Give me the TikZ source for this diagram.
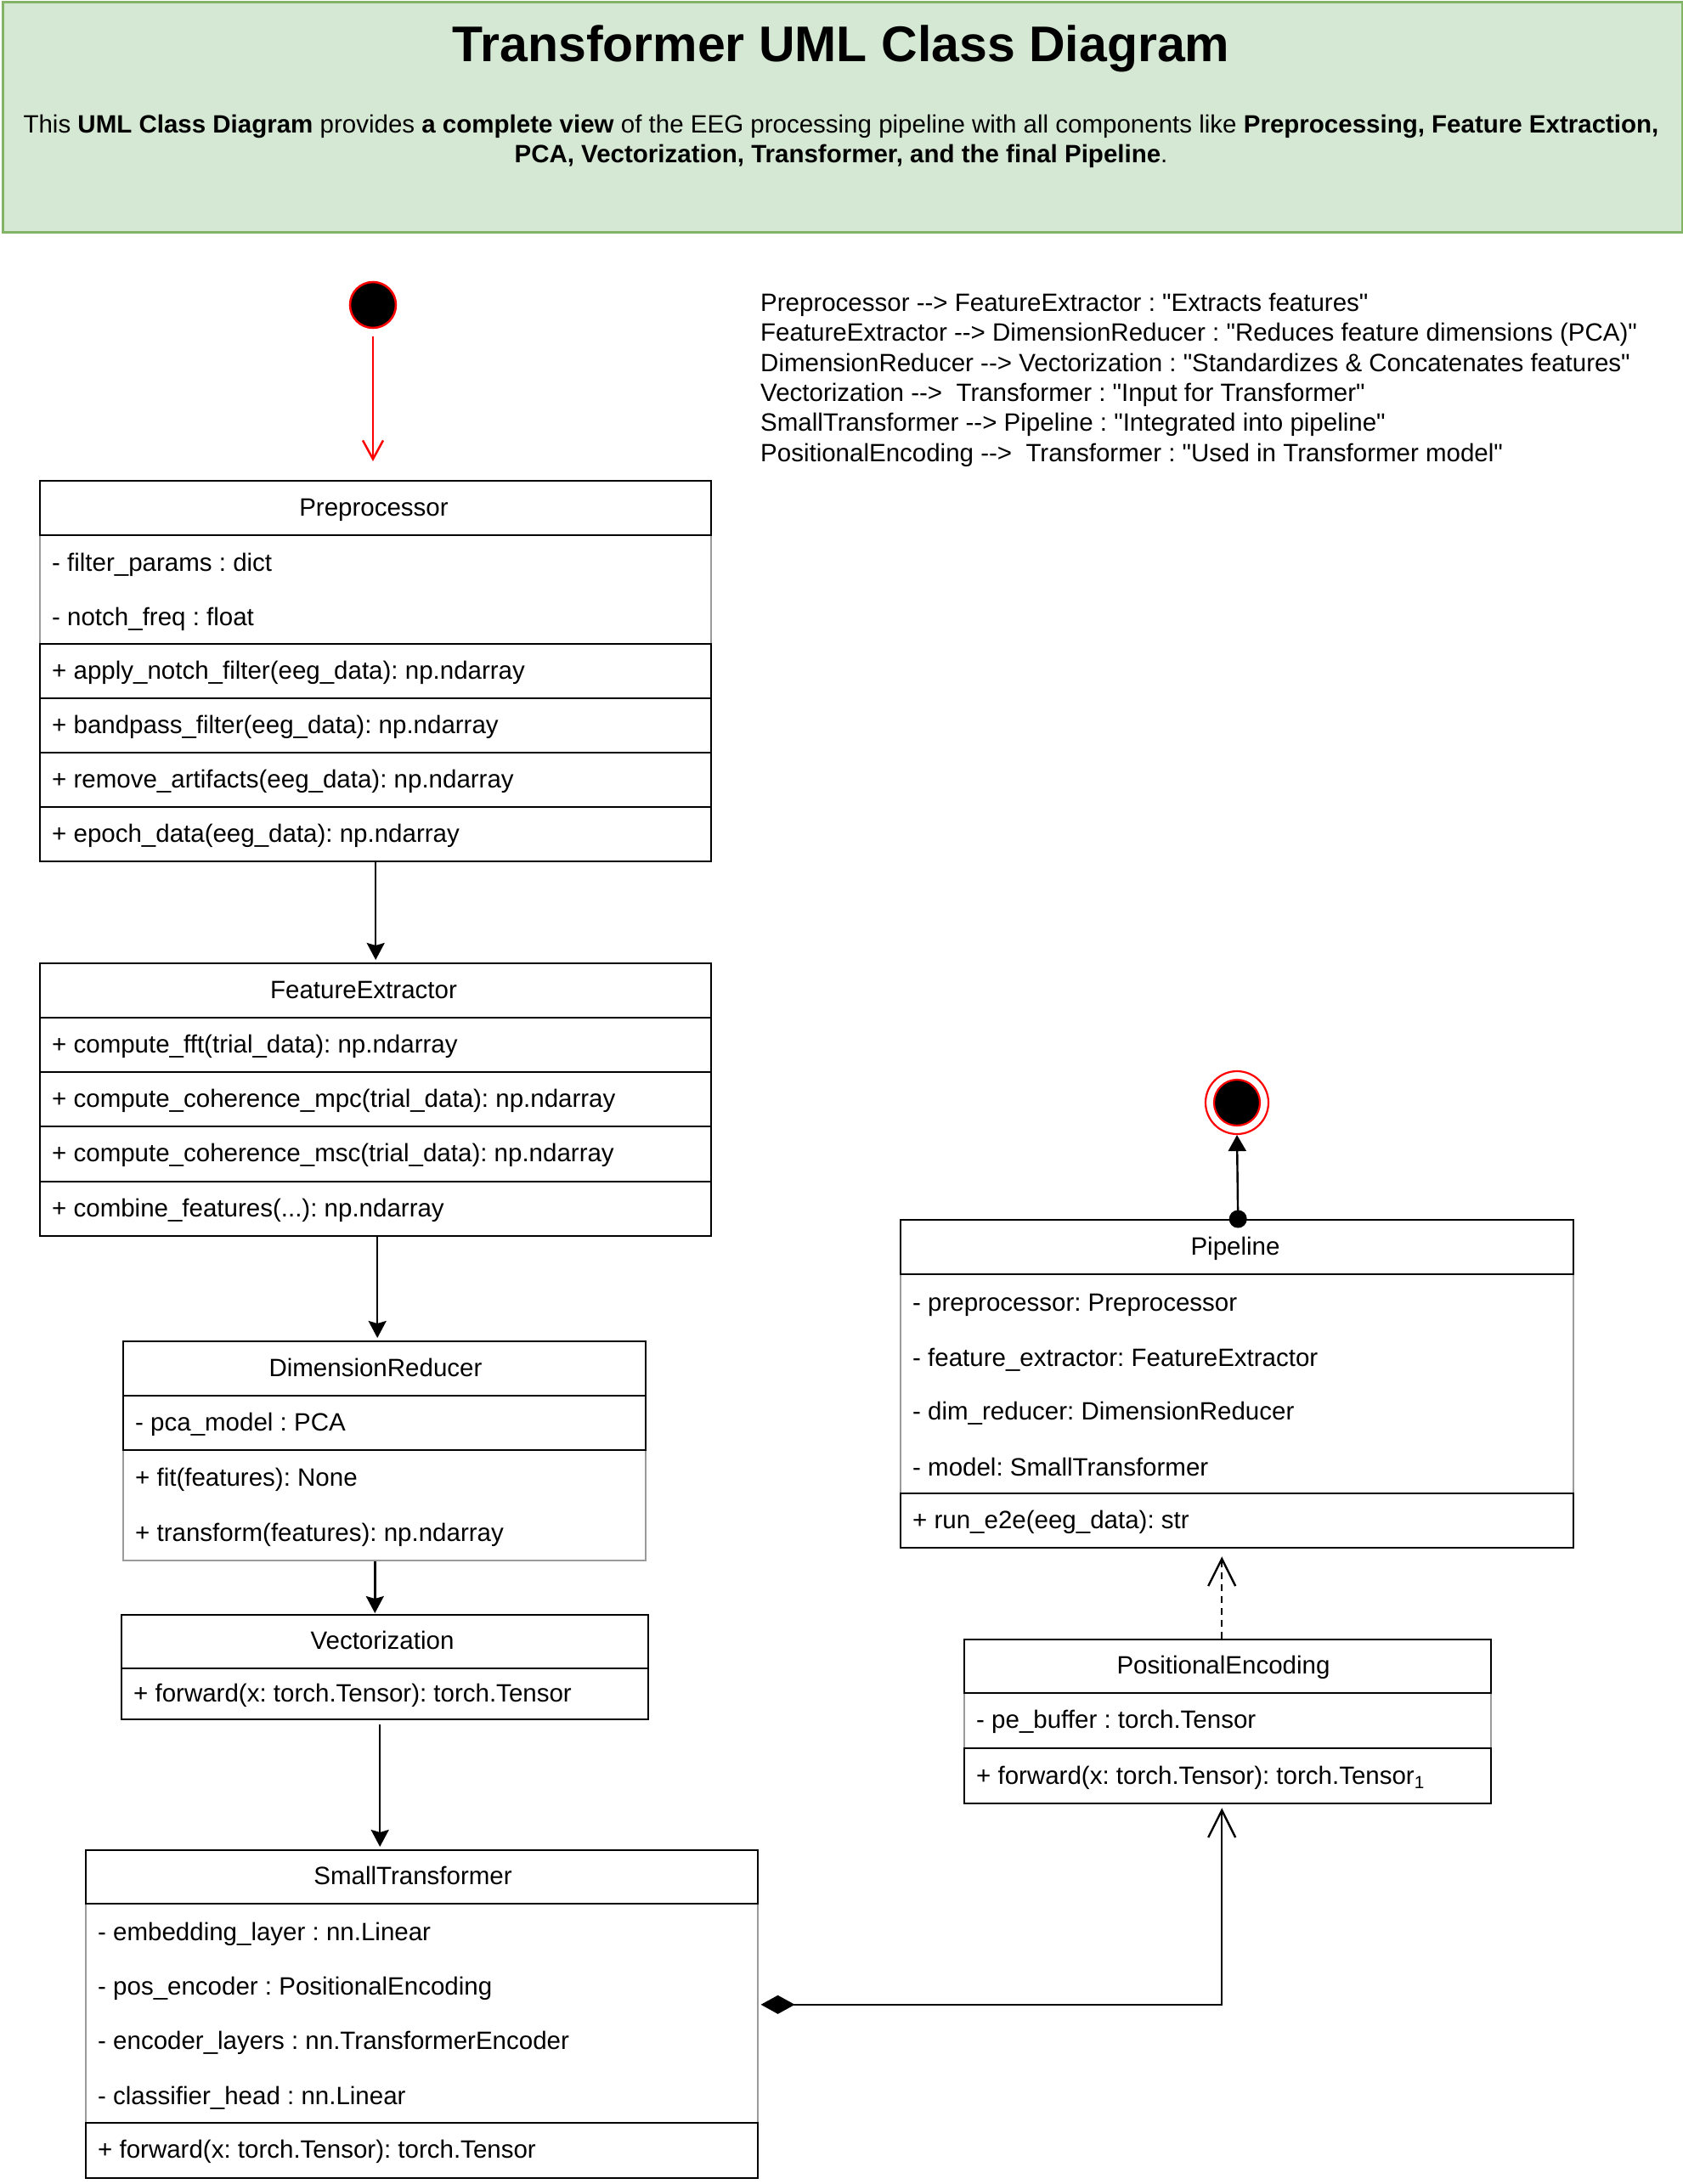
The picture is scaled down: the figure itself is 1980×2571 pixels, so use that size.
\documentclass[tikz,border=0pt]{standalone}
\usepackage{fontspec}
\setmainfont{Liberation Sans}[Ligatures=TeXOff]
\usetikzlibrary{arrows.meta}
\definecolor{bannerfill}{HTML}{D5E8D4}
\definecolor{bannerline}{HTML}{82B366}
\definecolor{umlred}{HTML}{FF0000}
\definecolor{softline}{HTML}{9A9A9A}
\frenchspacing
\newcommand{\bodyfs}{\fontsize{29.5}{35.4}\selectfont}
\newcommand{\titlefs}{\fontsize{59}{70}\selectfont}
% straight double quote
\newcommand{\dq}{\char34\relax}
% compartment box: style, name, left, top, width, height
\newcommand{\crow}[6]{\node[#1, minimum width=#5, minimum height=#6, anchor=north west] (#2) at (#3,#4) {};}
% left-aligned compartment text: name, x, baseline, text
\newcommand{\ctext}[4]{\node[txt, anchor=base west] (#1) at (#2,#3) {#4};}
% centred class name: name, x, baseline, text
\newcommand{\chead}[4]{\node[txt, anchor=base] (#1) at (#2,#3) {#4};}

\begin{document}
\begin{tikzpicture}[x=1pt,y=-1pt,
  txt/.style={inner sep=0pt, font=\bodyfs},
  solidrow/.style={draw=black, line width=2.4pt, inner sep=0pt},
  softrow/.style={draw=softline, line width=1.6pt, inner sep=0pt},
  flow/.style={draw=black, line width=2.4pt, -{Stealth[length=20pt,width=21pt,inset=3pt]}},
  startflow/.style={draw=umlred, line width=2.5pt, -{Straight Barb[length=22pt,width=24pt]}},
  endflow/.style={draw=black, line width=2.4pt, -{Triangle[length=19pt,width=21pt]}},
  composition/.style={draw=black, line width=2.4pt, {Diamond[length=40pt,width=22pt]}-{Straight Barb[length=32pt,width=32pt]}},
  dependency/.style={draw=black, line width=2.4pt, dash pattern=on 8pt off 6pt, -{Straight Barb[length=32pt,width=32pt]}}
]
\useasboundingbox (0,0) rectangle (1980,2571);
\fill[white] (0,0) rectangle (1980,2571);

% banner
\node[draw=bannerline, fill=bannerfill, line width=3pt, inner sep=0pt,
      minimum width=1977, minimum height=271, anchor=north west] (banner) at (1.5,1.5) {};
\node[anchor=base, inner sep=0pt, font=\titlefs\bfseries] (title) at (990,73) {Transformer UML Class Diagram};
\node[txt, anchor=base] (desc1) at (990,157) {This \textbf{UML Class Diagram} provides \textbf{a complete view} of the EEG processing pipeline with all components like \textbf{Preprocessing, Feature Extraction,}};
\node[txt, anchor=base] (desc2) at (990,192) {\textbf{PCA, Vectorization, Transformer, and the final Pipeline}.};

% relation notes
\ctext{rel1}{895}{366}{Preprocessor --> FeatureExtractor : \dq Extracts features\dq}
\ctext{rel2}{895}{401.5}{FeatureExtractor --> DimensionReducer : \dq Reduces feature dimensions (PCA)\dq}
\ctext{rel3}{895}{437}{DimensionReducer --> Vectorization : \dq Standardizes \& Concatenates features\dq}
\ctext{rel4}{895}{472}{Vectorization -->~ Transformer : \dq Input for Transformer\dq}
\ctext{rel5}{895}{507.5}{SmallTransformer --> Pipeline : \dq Integrated into pipeline\dq}
\ctext{rel6}{895}{543}{PositionalEncoding -->~ Transformer : \dq Used in Transformer model\dq}

% initial and final states
\node[circle, fill=black, draw=umlred, line width=2.5pt, minimum size=54, inner sep=0pt] (start) at (439,359) {};
\node[circle, draw=umlred, line width=2.2pt, minimum size=74, inner sep=0pt] (fin) at (1456,1298) {};
\node[circle, fill=black, draw=umlred, line width=2.2pt, minimum size=54, inner sep=0pt] (finIn) at (fin.center) {};

% Preprocessor
\crow{softrow}{preA}{46}{629}{790}{128}
\crow{solidrow}{preH}{46}{565}{790}{64}
\crow{solidrow}{preM1}{46}{757}{790}{64}
\crow{solidrow}{preM2}{46}{821}{790}{64}
\crow{solidrow}{preM3}{46}{885}{790}{64}
\crow{solidrow}{preM4}{46}{949}{790}{64}
\chead{preT}{440}{607}{Preprocessor}
\ctext{preA1}{61}{672}{- filter\_params : dict}
\ctext{preA2}{61}{736}{- notch\_freq : float}
\ctext{preT1}{61}{799}{+ apply\_notch\_filter(eeg\_data): np.ndarray}
\ctext{preT2}{61}{863}{+ bandpass\_filter(eeg\_data): np.ndarray}
\ctext{preT3}{61}{927}{+ remove\_artifacts(eeg\_data): np.ndarray}
\ctext{preT4}{61}{991}{+ epoch\_data(eeg\_data): np.ndarray}

% FeatureExtractor
\crow{solidrow}{feH}{46}{1133}{790}{64}
\crow{solidrow}{feM1}{46}{1197}{790}{64}
\crow{solidrow}{feM2}{46}{1261}{790}{64}
\crow{solidrow}{feM3}{46}{1325}{790}{65}
\crow{solidrow}{feM4}{46}{1390}{790}{64}
\chead{feT}{428}{1175}{FeatureExtractor}
\ctext{feT1}{61}{1239}{+ compute\_fft(trial\_data): np.ndarray}
\ctext{feT2}{61}{1303}{+ compute\_coherence\_mpc(trial\_data): np.ndarray}
\ctext{feT3}{61}{1367}{+ compute\_coherence\_msc(trial\_data): np.ndarray}
\ctext{feT4}{61}{1432}{+ combine\_features(...): np.ndarray}

% DimensionReducer
\crow{softrow}{drM}{144}{1706}{615}{130}
\crow{solidrow}{drH}{144}{1578}{615}{64}
\crow{solidrow}{drA}{144}{1642}{615}{64}
\chead{drT}{442}{1620}{DimensionReducer}
\ctext{drA1}{159}{1684}{- pca\_model : PCA}
\ctext{drT1}{159}{1749}{+ fit(features): None}
\ctext{drT2}{159}{1814}{+ transform(features): np.ndarray}

% Vectorization
\crow{solidrow}{vecH}{142}{1900}{620}{63}
\crow{solidrow}{vecM}{142}{1963}{620}{60}
\chead{vecT}{450}{1941}{Vectorization}
\ctext{vecT1}{157}{2003}{+ forward(x: torch.Tensor): torch.Tensor}

% SmallTransformer
\crow{softrow}{stA}{100}{2240}{791}{258}
\crow{solidrow}{stH}{100}{2177}{791}{63}
\crow{solidrow}{stM}{100}{2498}{791}{65}
\chead{stT}{486}{2218}{SmallTransformer}
\ctext{stA1}{115}{2284}{- embedding\_layer : nn.Linear}
\ctext{stA2}{115}{2348}{- pos\_encoder : PositionalEncoding}
\ctext{stA3}{115}{2412}{- encoder\_layers : nn.TransformerEncoder}
\ctext{stA4}{115}{2477}{- classifier\_head : nn.Linear}
\ctext{stT1}{115}{2540}{+ forward(x: torch.Tensor): torch.Tensor}

% PositionalEncoding
\crow{softrow}{peA}{1134}{1992}{620}{65}
\crow{solidrow}{peH}{1134}{1929}{620}{63}
\crow{solidrow}{peM}{1134}{2057}{620}{65}
\chead{peT}{1440}{1970}{PositionalEncoding}
\ctext{peA1}{1149}{2034}{- pe\_buffer : torch.Tensor}
\ctext{peT1}{1149}{2100}{+ forward(x: torch.Tensor): torch.Tensor\textsubscript{1}}

% Pipeline
\crow{softrow}{plA}{1059}{1499}{792}{258}
\crow{solidrow}{plH}{1059}{1435}{792}{64}
\crow{solidrow}{plM}{1059}{1757}{792}{64}
\chead{plT}{1454}{1477}{Pipeline}
\ctext{plA1}{1074}{1543}{- preprocessor: Preprocessor}
\ctext{plA2}{1074}{1608}{- feature\_extractor: FeatureExtractor}
\ctext{plA3}{1074}{1671}{- dim\_reducer: DimensionReducer}
\ctext{plA4}{1074}{1737}{- model: SmallTransformer}
\ctext{plT1}{1074}{1799}{+ run\_e2e(eeg\_data): str}

% connectors
\draw[startflow, shorten <=9pt, shorten >=22pt] (start) -- (preH.north -| start);
\draw[flow, shorten >=3pt] (preM4.south) -- (feH.north);
\draw[flow, shorten >=3pt] ([xshift=2pt]feM4.south) -- ([xshift=2pt]feM4.south |- drH.north);
\draw[flow, shorten >=1pt] ([xshift=-11pt]drM.south) -- ([xshift=-11pt]drM.south |- vecH.north);
\draw[flow, shorten <=5pt, shorten >=3pt] ([xshift=-6pt]vecM.south) -- ([xshift=-6pt]vecM.south |- stH.north);
\fill[black] ([xshift=1pt]plH.north) circle (10.5pt);
\draw[endflow] ([xshift=1pt]plH.north) -- (fin.south);
\draw[composition, shorten >=4pt] ([xshift=3pt,yshift=10pt]stA.east) -| ([xshift=-7pt]peM.south);
\draw[dependency, shorten >=9pt] ([xshift=-7pt]peH.north) -- ([xshift=-7pt]peH.north |- plM.south);
\end{tikzpicture}
\end{document}
